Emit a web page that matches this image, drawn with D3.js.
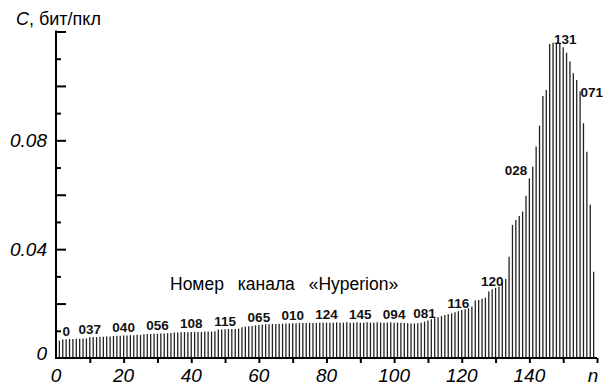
<!DOCTYPE html>
<html>
<head>
<meta charset="utf-8">
<script src="https://cdn.jsdelivr.net/npm/d3@7"></script>
<style>
  html, body { margin: 0; padding: 0; background: #fff; }
  svg { display: block; font-family: "Liberation Sans", Arial, sans-serif; }
</style>
</head>
<body>
<div id="chart"></div>
<script>
// номера каналов по оси n
const channels = d3.range(1, 160);

// пропускная способность C, бит/пкл, по каналам 1..159
const capacity = [
  0.0064, 0.0068, 0.0069, 0.0070, 0.0070, 0.0071, 0.0071, 0.0072, 0.0072, 0.0076,
  0.0077, 0.0077, 0.0078, 0.0078, 0.0079, 0.0079, 0.0081, 0.0082, 0.0082, 0.0083,
  0.0083, 0.0084, 0.0084, 0.0085, 0.0085, 0.0087, 0.0088, 0.0088, 0.0089, 0.0089,
  0.0090, 0.0090, 0.0091, 0.0092, 0.0094, 0.0094, 0.0095, 0.0095, 0.0095, 0.0096,
  0.0096, 0.0096, 0.0096, 0.0097, 0.0097, 0.0097, 0.0098, 0.0105, 0.0105, 0.0106,
  0.0106, 0.0107, 0.0107, 0.0108, 0.0113, 0.0115, 0.0117, 0.0118, 0.0120, 0.0121,
  0.0123, 0.0124, 0.0124, 0.0125, 0.0125, 0.0126, 0.0126, 0.0127, 0.0127, 0.0128,
  0.0128, 0.0128, 0.0129, 0.0129, 0.0129, 0.0129, 0.0129, 0.0130, 0.0130, 0.0130,
  0.0130, 0.0130, 0.0131, 0.0130, 0.0130, 0.0131, 0.0130, 0.0130, 0.0131, 0.0130,
  0.0130, 0.0131, 0.0130, 0.0130, 0.0131, 0.0130, 0.0130, 0.0130, 0.0131, 0.0130,
  0.0130, 0.0130, 0.0129, 0.0128, 0.0127, 0.0127, 0.0128, 0.0130, 0.0134, 0.0138,
  0.0142, 0.0146, 0.0150, 0.0154, 0.0158, 0.0161, 0.0164, 0.0168, 0.0172, 0.0176,
  0.0179, 0.0183, 0.0189, 0.0211, 0.0213, 0.0218, 0.0222, 0.0244, 0.0253, 0.0258,
  0.0262, 0.0275, 0.0290, 0.0372, 0.0489, 0.0507, 0.0522, 0.0538, 0.0596, 0.0660,
  0.0703, 0.0777, 0.0854, 0.0963, 0.0985, 0.1154, 0.1159, 0.1159, 0.1157, 0.1142,
  0.1122, 0.1090, 0.1047, 0.1022, 0.0980, 0.0863, 0.0758, 0.0563, 0.0317
];

// подписи номеров каналов Hyperion над столбиками
const bandN = [3, 10, 20, 30, 40, 50, 60, 70, 80, 90, 100, 109, 119, 129, 140, 150, 155];
const bandLabels = ['0', '037', '040', '056', '108', '115', '065', '010', '124', '145', '094', '081', '116', '120', '028', '131', '071'];

// деления осей
const xTickLabels = [0, 20, 40, 60, 80, 100, 120, 140];
const xTicks = d3.range(10, 161, 10);
const yMajorTicks = [0.02, 0.04, 0.06, 0.08, 0.10, 0.12];
const yMinorTicks = [0.01, 0.03, 0.05, 0.07, 0.09, 0.11];
const yTickLabels = [0, 0.04, 0.08];

const width = 603;
const height = 385;
const margin = { top: 31.5, right: 6, bottom: 27, left: 56 };

const svg = d3.select('#chart')
  .append('svg')
  .attr('width', width)
  .attr('height', height);

// 1. шкалы
const x = d3.scaleLinear().domain([0, 160]).range([margin.left, width - margin.right]);
const y = d3.scaleLinear().domain([0, 0.12]).range([height - margin.bottom, margin.top]);

// 2. столбики-линии
svg.append('g')
  .selectAll('line')
  .data(channels)
  .join('line')
  .attr('x1', (d) => x(d))
  .attr('x2', (d) => x(d))
  .attr('y1', y(0))
  .attr('y2', (d, i) => y(capacity[i]))
  .attr('stroke', '#222')
  .attr('stroke-width', 1.3);

// 3. оси
const axisStyle = (g) => {
  g.select('.domain').remove();
  g.selectAll('line').attr('stroke', '#000').attr('stroke-width', 2);
  g.selectAll('text').remove();
};

svg.append('g')
  .attr('transform', `translate(${margin.left},0)`)
  .call(d3.axisRight(y).tickValues(yMajorTicks).tickSize(10))
  .call(axisStyle);

svg.append('g')
  .attr('transform', `translate(${margin.left},0)`)
  .call(d3.axisRight(y).tickValues(yMinorTicks).tickSize(5))
  .call(axisStyle);

svg.append('g')
  .attr('transform', `translate(0,${y(0)})`)
  .call(d3.axisBottom(x).tickValues(xTicks).tickSize(5))
  .call(axisStyle);

svg.append('line')
  .attr('x1', x(0)).attr('x2', x(0))
  .attr('y1', y(0.12) - 1).attr('y2', y(0) + 1)
  .attr('stroke', '#000').attr('stroke-width', 2);

svg.append('line')
  .attr('x1', x(0) - 1).attr('x2', x(160))
  .attr('y1', y(0)).attr('y2', y(0))
  .attr('stroke', '#000').attr('stroke-width', 2);

// подписи делений
svg.append('g')
  .selectAll('text')
  .data(yTickLabels)
  .join('text')
  .attr('x', 47)
  .attr('y', (d) => d === 0 ? y(0) - 5 : y(d))
  .attr('dy', '0.36em')
  .attr('text-anchor', 'end')
  .style('font-size', '19px')
  .style('font-style', 'italic')
  .text((d) => d === 0 ? '0' : d3.format('.2f')(d));

svg.append('g')
  .selectAll('text')
  .data(xTickLabels)
  .join('text')
  .attr('x', (d) => x(d))
  .attr('y', 382)
  .attr('text-anchor', 'middle')
  .style('font-size', '19px')
  .style('font-style', 'italic')
  .text((d) => d);

svg.append('text')
  .attr('x', x(160) - 4)
  .attr('y', 382)
  .attr('text-anchor', 'middle')
  .style('font-size', '19px')
  .style('font-style', 'italic')
  .text('n');

// заголовок оси Y
const yTitle = svg.append('text')
  .attr('x', 16)
  .attr('y', 25)
  .style('font-size', '18px');
yTitle.append('tspan').style('font-style', 'italic').text('C');
yTitle.append('tspan').text(', бит/пкл');

// 4. номера каналов над столбиками
svg.append('g')
  .selectAll('text')
  .data(bandN)
  .join('text')
  .attr('x', (d, i) => {
    if (bandLabels[i] === '028') return x(d) - 2;
    if (bandLabels[i] === '071') return x(d) + 0.5;
    if (bandLabels[i] === '131') return x(d) + 2;
    return x(d);
  })
  .attr('y', (d, i) => {
    if (bandLabels[i] === '071') return y(capacity[d - 1]) + 6;
    return y(capacity[d - 1]) - 3.5;
  })
  .attr('text-anchor', (d, i) => bandLabels[i] === '028' ? 'end' : bandLabels[i] === '071' ? 'start' : 'middle')
  .style('font-size', '13.5px')
  .style('font-weight', 'bold')
  .style('fill', '#111')
  .text((d, i) => bandLabels[i]);

// 5. подпись внутри поля
svg.append('text')
  .attr('x', 170)
  .attr('y', 290)
  .style('font-size', '17.5px')
  .style('word-spacing', '9px')
  .text('Номер канала «Hyperion»');
</script>
</body>
</html>
